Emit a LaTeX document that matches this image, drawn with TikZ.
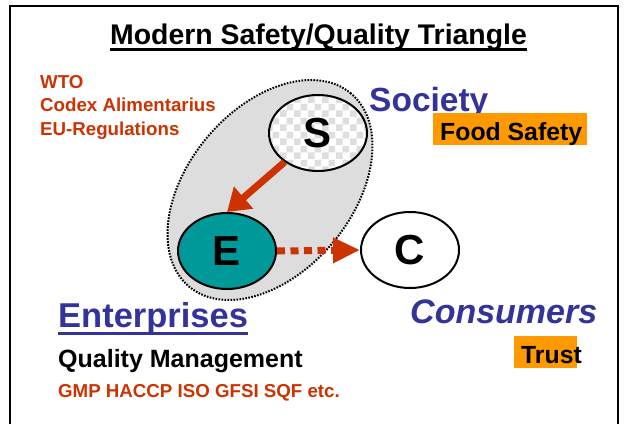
\documentclass[tikz,border=0pt]{standalone}
\usepackage{fontspec}
\setmainfont{Liberation Sans}
\usetikzlibrary{shapes.geometric,arrows.meta,positioning,patterns}

\definecolor{ruleRed}{HTML}{CC3300}
\definecolor{actorBlue}{HTML}{333399}
\definecolor{tagOrange}{HTML}{FF9900}
\definecolor{firmTeal}{HTML}{009999}
\definecolor{zoneGray}{HTML}{DDDDDD}

\pgfdeclarepatternformonly{bigchecks}{\pgfqpoint{0pt}{0pt}}{\pgfqpoint{14pt}{14pt}}{\pgfqpoint{14pt}{14pt}}{%
  \pgfpathrectangle{\pgfqpoint{0pt}{0pt}}{\pgfqpoint{7pt}{7pt}}%
  \pgfpathrectangle{\pgfqpoint{7pt}{7pt}}{\pgfqpoint{7pt}{7pt}}%
  \pgfusepath{fill}}

\begin{document}
\begin{tikzpicture}[
    x=1pt, y=1pt,
    party/.style={ellipse, draw, line width=2pt, minimum width=98pt, minimum height=76pt, inner sep=0pt, font=\bfseries\fontsize{42}{48}\selectfont},
    heading/.style={inner sep=0pt, anchor=base west, font=\bfseries\fontsize{28.4}{32}\selectfont},
    rules/.style={inner sep=0pt, anchor=base west, text=ruleRed, font=\bfseries\fontsize{18.7}{22}\selectfont},
    actor/.style={inner sep=0pt, anchor=base west, text=actorBlue, font=\bfseries\fontsize{34.5}{38}\selectfont},
    tag/.style={inner sep=0pt, anchor=base west, font=\bfseries\fontsize{24.8}{28}\selectfont},
    govarrow/.style={draw=ruleRed, line width=7pt, -{Triangle[length=22pt,width=28pt,fill=ruleRed]}},
    buyarrow/.style={draw=ruleRed, line width=7pt, dash pattern=on 8pt off 5.5pt, -{Triangle[length=27pt,width=24pt,fill=ruleRed]}}
]
\useasboundingbox (0,0) rectangle (628,424);

% frame
\draw[line width=2.3pt] (10,0) -- (10,418) -- (618,418) -- (618,0);

% title
\node[heading] (title) at (110,379) {Modern Safety/Quality Triangle};
\draw[line width=3pt] ([yshift=-5pt]title.base west) -- ([yshift=-5pt]title.base east);

% regulations
\node[rules] (wto) at (40,336) {WTO};
\node[rules] (codex) at ([yshift=-23.5pt]wto.base west) {Codex Alimentarius};
\node[rules] (eureg) at ([yshift=-23.5pt]codex.base west) {EU-Regulations};

% society zone
\node[ellipse, draw, fill=zoneGray, line width=2pt, dash pattern=on 1.6pt off 1.4pt,
      minimum width=252pt, minimum height=164pt, inner sep=0pt, rotate=50] (zone) at (270,234) {};

\node[party, preaction={fill=white}, pattern=bigchecks, pattern color=black!13] (S) at (318,291) {S};
\node[party, fill=firmTeal] (E) at (227,173) {E};
\node[party, fill=white] (C) at (410,174) {C};

\draw[govarrow] (S.221) -- (E.north);
\draw[buyarrow] (E.east) -- (C.west);

% society
\node[actor, font=\bfseries\fontsize{33.5}{36}\selectfont] (society) at (369,313) {Society};
\fill[tagOrange] (433,279) rectangle (587,311);
\node[tag] (safety) at (440,284) {Food Safety};

% enterprises
\node[actor] (firms) at (58,97) {Enterprises};
\draw[actorBlue, line width=3pt] ([yshift=-6.5pt]firms.base west) -- ([yshift=-6.5pt]firms.base east);
\node[tag, font=\bfseries\fontsize{25}{28}\selectfont] (qm) at (58,57) {Quality Management};
\node[rules] (gmp) at (58,27) {GMP HACCP ISO GFSI SQF etc.};

% consumers
\node[actor, font=\bfseries\itshape\fontsize{34}{38}\selectfont] (buyers) at (410,101) {Consumers};
\fill[tagOrange] (514,56) rectangle (577,88);
\node[tag] (trust) at (521,61) {Trust};

\end{tikzpicture}
\end{document}
